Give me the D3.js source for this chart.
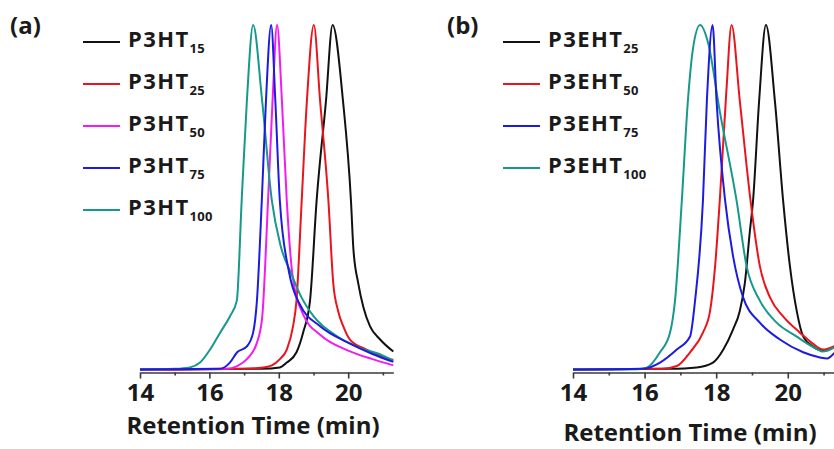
<!DOCTYPE html>
<html>
<head>
<meta charset="utf-8">
<script src="https://cdn.jsdelivr.net/npm/d3@7"></script>
<style>
  body { margin: 0; background: #fff; }
  svg text { font-family: "Open Sans", sans-serif; font-weight: 700; fill: #1a1a1a; }
</style>
</head>
<body>
<div class="chartWrap"></div>
<script>
var width = 834,
  height = 449;

// axis ticks (min)
var majorTicks = [14, 16, 18, 20],
  minorTicks = [15, 17, 19, 21];

// legend text
var baseA = 'P3HT',
  subsA = ['15', '25', '50', '75', '100'],
  baseB = 'P3EHT',
  subsB = ['25', '50', '75', '100'];

// normalized GPC traces, [retention time (min), intensity]
var p3ht15 = [[14, 0], [17.5, 0.002], [18.03, 0.006], [18.23, 0.02], [18.51, 0.05], [18.7, 0.107], [18.9, 0.2], [19.09, 0.49], [19.36, 0.78], [19.55, 1], [19.85, 0.78], [20.08, 0.49], [20.15, 0.35], [20.29, 0.25], [20.44, 0.18], [20.63, 0.125], [20.92, 0.087], [21.3, 0.052]];
var p3ht25 = [[14, 0], [17.0, 0.002], [17.5, 0.005], [17.8, 0.012], [18.03, 0.03], [18.23, 0.058], [18.41, 0.125], [18.51, 0.2], [18.66, 0.49], [18.81, 0.78], [19.01, 1], [19.19, 0.78], [19.43, 0.49], [19.57, 0.25], [19.71, 0.17], [19.86, 0.125], [20.05, 0.087], [20.53, 0.058], [21.2, 0.03], [21.3, 0.028]];
var p3ht50 = [[14, 0], [16.5, 0.002], [16.8, 0.01], [17.08, 0.03], [17.37, 0.078], [17.52, 0.15], [17.69, 0.49], [17.82, 0.78], [17.95, 1], [18.09, 0.78], [18.23, 0.49], [18.4, 0.27], [18.7, 0.16], [19.2, 0.1], [20.0, 0.055], [20.7, 0.03], [21.3, 0.012]];
var p3ht75 = [[14, 0], [16.3, 0.002], [16.59, 0.02], [16.8, 0.05], [17.08, 0.067], [17.26, 0.107], [17.37, 0.2], [17.51, 0.49], [17.63, 0.78], [17.78, 1], [17.9, 0.78], [18.03, 0.49], [18.3, 0.28], [18.6, 0.19], [19.2, 0.125], [20.0, 0.078], [20.7, 0.045], [21.3, 0.022]];
var p3ht100 = [[14, 0], [15.0, 0.002], [15.44, 0.006], [15.73, 0.02], [16.02, 0.058], [16.31, 0.107], [16.59, 0.154], [16.79, 0.2], [16.93, 0.49], [17.08, 0.78], [17.26, 1], [17.52, 0.78], [17.8, 0.49], [18.05, 0.36], [18.35, 0.28], [18.65, 0.21], [19.0, 0.155], [19.7, 0.095], [20.4, 0.06], [20.9, 0.045], [21.3, 0.025]];

var p3eht25 = [[14, 0], [16.7, 0.002], [17.46, 0.006], [17.91, 0.02], [18.2, 0.058], [18.47, 0.116], [18.66, 0.17], [18.8, 0.25], [18.94, 0.4], [19.03, 0.49], [19.2, 0.78], [19.39, 1], [19.64, 0.78], [19.87, 0.49], [20.06, 0.3], [20.25, 0.17], [20.43, 0.096], [20.7, 0.067], [20.98, 0.055], [21.3, 0.065]];
var p3eht50 = [[14, 0], [16.5, 0.002], [16.9, 0.01], [17.27, 0.05], [17.63, 0.107], [17.83, 0.17], [17.97, 0.3], [18.1, 0.49], [18.28, 0.8], [18.43, 1], [18.66, 0.78], [18.96, 0.49], [19.22, 0.3], [19.5, 0.21], [19.87, 0.154], [20.34, 0.107], [20.7, 0.075], [20.98, 0.058], [21.3, 0.068]];
var p3eht75 = [[14, 0], [15.96, 0.002], [16.43, 0.02], [16.9, 0.058], [17.27, 0.096], [17.41, 0.2], [17.63, 0.49], [17.74, 0.78], [17.9, 1], [18.01, 0.78], [18.25, 0.49], [18.47, 0.33], [18.75, 0.21], [19.22, 0.136], [19.78, 0.087], [20.43, 0.05], [20.9, 0.035], [21.1, 0.032], [21.3, 0.048]];
var p3eht100 = [[14, 0], [15.8, 0.001], [16.06, 0.005], [16.43, 0.05], [16.71, 0.107], [16.85, 0.2], [17.04, 0.49], [17.21, 0.78], [17.35, 0.93], [17.55, 1], [17.77, 0.95], [18.1, 0.75], [18.57, 0.49], [18.85, 0.3], [19.22, 0.2], [19.69, 0.136], [20.24, 0.096], [20.8, 0.06], [20.98, 0.052], [21.3, 0.064]];

var colorsA = ['#111111', '#e8161c', '#f21cf0', '#1c1ce0', '#16998b'],
  colorsB = ['#111111', '#e8161c', '#1c1ce0', '#16998b'];

var svg = d3.select('.chartWrap')
  .append('svg')
  .attr('width', width)
  .attr('height', height);

var y = d3.scaleLinear().domain([0, 1]).range([369.5, 25]);

var drawPanel = function(opt){
  var x = d3.scaleLinear().domain([14, 21.3]).range(opt.range);
  var g = svg.append('g');

  var line = d3.line()
    .x(function(d){ return x(d[0]); })
    .y(function(d){ return y(d[1]); })
    .curve(d3.curveMonotoneX);

  // curves, drawn so the blue one sits on top along the baseline
  opt.order.forEach(function(i){
    g.append('path')
      .datum(opt.series[i])
      .attr('d', line)
      .style('fill', 'none')
      .style('stroke', opt.colors[i])
      .style('stroke-width', 2);
  });

  //minor ticks
  g.append('g')
    .attr('transform', 'translate(0,372.5)')
    .call(d3.axisBottom(x).tickValues(minorTicks).tickSize(3).tickSizeOuter(0).tickFormat(''))
    .call(function(a){ a.select('.domain').remove(); });

  //major ticks + axis line
  var ax = g.append('g')
    .attr('class', 'xAxis')
    .attr('transform', 'translate(0,372.5)')
    .call(d3.axisBottom(x).tickValues(majorTicks).tickSize(6).tickSizeOuter(0).tickPadding(3));
  ax.select('.domain').style('stroke', '#3a3a3a').style('stroke-width', 1.6);
  g.selectAll('.tick line').style('stroke', '#3a3a3a').style('stroke-width', 1.6);
  ax.selectAll('.tick text')
    .attr('y', 28)
    .attr('dy', 0)
    .style('font-size', '24px')
    .style('font-family', '"Open Sans", sans-serif')
    .style('font-weight', 700)
    .style('fill', '#1a1a1a');

  // axis title
  g.append('text')
    .attr('x', opt.titleX)
    .attr('y', opt.titleY)
    .attr('text-anchor', 'middle')
    .style('font-size', '24px')
    .text('Retention Time (min)');

  // panel letter
  g.append('text')
    .attr('x', opt.letterX)
    .attr('y', 34)
    .style('font-size', '24px')
    .text(opt.letter);

  // legend
  var leg = g.selectAll('.legendRow')
    .data(opt.subs)
    .enter()
      .append('g')
      .attr('class', 'legendRow')
      .attr('transform', function(d, i){ return 'translate(' + opt.legX + ',' + (42 + i * 42) + ')'; });

  leg.append('line')
    .attr('x1', 0).attr('x2', 37)
    .style('stroke', function(d, i){ return opt.colors[i]; })
    .style('stroke-width', 2);

  var t = leg.append('text')
    .attr('x', 45)
    .attr('y', 5)
    .style('font-size', '22px')
    .style('letter-spacing', '1.4px');
  t.append('tspan').text(opt.base);
  t.append('tspan')
    .attr('dy', 6)
    .style('font-size', '13px')
    .style('letter-spacing', '0.3px')
    .text(function(d){ return d; });
};

drawPanel({
  range: [140, 393.3],
  series: [p3ht15, p3ht25, p3ht50, p3ht75, p3ht100],
  colors: colorsA,
  order: [0, 1, 2, 4, 3],
  base: baseA,
  subs: subsA,
  legX: 83,
  letter: '(a)',
  letterX: 10,
  titleX: 253,
  titleY: 434
});

drawPanel({
  range: [573, 834.3],
  series: [p3eht25, p3eht50, p3eht75, p3eht100],
  colors: colorsB,
  order: [0, 1, 3, 2],
  base: baseB,
  subs: subsB,
  legX: 503,
  letter: '(b)',
  letterX: 447,
  titleX: 690,
  titleY: 441
});
</script>
</body>
</html>
